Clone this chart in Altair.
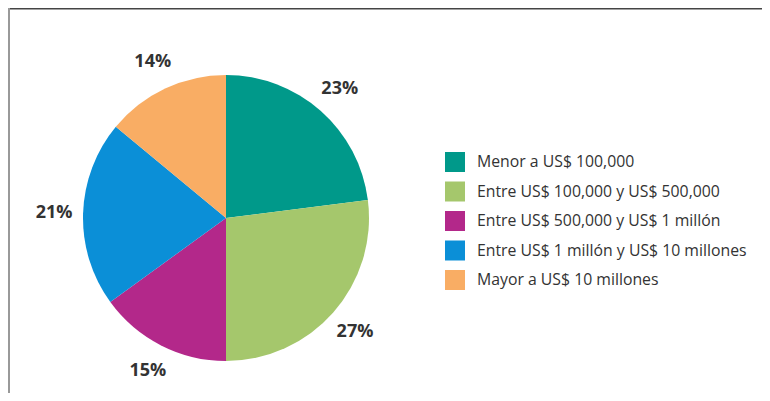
import altair as alt
import pandas as pd

categories = [
    "Menor a US$ 100,000",
    "Entre US$ 100,000 y US$ 500,000",
    "Entre US$ 500,000 y US$ 1 millón",
    "Entre US$ 1 millón y US$ 10 millones",
    "Mayor a US$ 10 millones",
]
values = [23, 27, 15, 21, 14]
labels = ["23%", "27%", "15%", "21%", "14%"]
colors = ["#00998A", "#A5C76C", "#B3288A", "#0B8FD7", "#F9AD64"]

df = pd.DataFrame({
    "category": categories,
    "value": values,
    "label": labels,
    "idx": list(range(len(categories))),
})

CX, CY = 218, 210

base = alt.Chart(df).encode(
    theta=alt.Theta("value:Q", stack=True),
    order=alt.Order("idx:Q"),
)

arc = base.mark_arc(outerRadius=143).encode(
    x=alt.value(CX),
    y=alt.value(CY),
    color=alt.Color(
        "category:N",
        scale=alt.Scale(domain=categories, range=colors),
        legend=alt.Legend(
            title=None,
            orient="none",
            legendX=437,
            legendY=144,
            symbolType="square",
            symbolSize=400,
            symbolStrokeWidth=0,
            symbolOpacity=1,
            labelFont="Open Sans",
            labelFontSize=15.8,
            labelColor="#333333",
            labelOffset=12,
            rowPadding=9.5,
            padding=0,
            labelLimit=400,
        ),
    ),
)

text = base.mark_text(
    radius=172, fontSize=18, fontWeight="bold", font="Open Sans",
    align="center", baseline="middle"
).encode(
    x=alt.value(CX),
    y=alt.value(CY),
    text="label:N",
    color=alt.value("#333333"),
)

one = pd.DataFrame({"a": [0]})
frame_top = alt.Chart(one).mark_rule(color="#444444", strokeWidth=1.5).encode(
    x=alt.value(0), x2=alt.value(754), y=alt.value(0.75)
)
frame_left = alt.Chart(one).mark_rule(color="#999999", strokeWidth=2).encode(
    x=alt.value(1), y=alt.value(0), y2=alt.value(385)
)

chart = alt.layer(frame_top, frame_left, arc, text).properties(
    width=754, height=385, padding=0, autosize="none"
).configure_view(stroke=None)

chart.save("out.html", embed_options={"renderer": "svg", "actions": False})
